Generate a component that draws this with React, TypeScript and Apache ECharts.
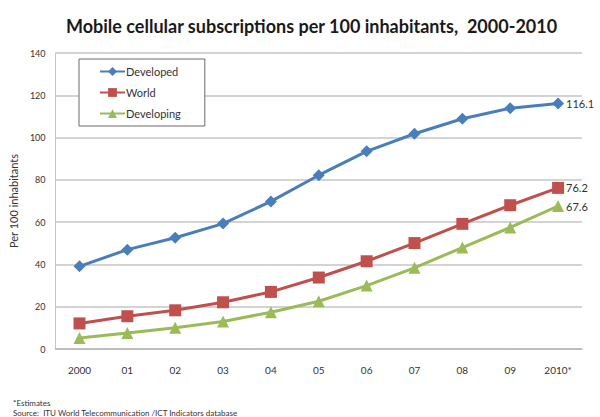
import React, { useEffect, useRef } from "react";
import * as echarts from "echarts";

const years = ["2000", "01", "02", "03", "04", "05", "06", "07", "08", "09", "2010*"];
const developed = [39.1, 47.0, 52.6, 59.3, 69.8, 82.2, 93.5, 101.8, 108.9, 113.9, 116.1];
const world = [12.1, 15.5, 18.3, 22.1, 27.0, 33.8, 41.5, 50.1, 59.2, 68.0, 76.2];
const developing = [5.2, 7.6, 10.1, 13.0, 17.4, 22.6, 30.0, 38.4, 48.0, 57.5, 67.6];
const yTicks = { min: 0, max: 140, interval: 20 };

const FONT = "Lato, 'Open Sans', sans-serif";

export default function App() {
  const ref = useRef<HTMLDivElement>(null);
  useEffect(() => {
    document.body.style.margin = "0";
    const chart = echarts.init(ref.current!, null, { renderer: "svg" });
    const endLabel = {
      show: true,
      formatter: (p: any) => String(p.value),
      color: "#333",
      fontSize: 11,
      fontFamily: FONT,
      distance: 8,
    };
    const mk = (name: string, data: number[], color: string, symbol: string, size: number) => ({
      name,
      type: "line",
      data,
      symbol,
      symbolSize: size,
      showAllSymbol: true,
      lineStyle: { color, width: 3 },
      itemStyle: { color },
      endLabel,
      z: 3,
    });
    chart.setOption({
      animation: false,
      backgroundColor: "#ffffff",
      textStyle: { fontFamily: FONT },
      title: {
        text: "Mobile cellular subscriptions per 100 inhabitants,  2000-2010",
        left: 61,
        top: 12,
        textStyle: { fontFamily: FONT, fontSize: 18, fontWeight: "bold", color: "#1a1a1a" },
      },
      grid: { left: 52, right: 18, top: 53, bottom: 68 },
      legend: {
        orient: "vertical",
        left: 79,
        top: 59,
        width: 126,
        padding: [7, 24, 7, 20],
        itemGap: 10,
        itemWidth: 25,
        itemHeight: 11,
        backgroundColor: "#ffffff",
        borderColor: "#6a6a6a",
        borderWidth: 1,
        textStyle: { fontFamily: FONT, fontSize: 11, color: "#333", padding: [0, 0, 0, -4] },
        data: ["Developed", "World", "Developing"],
      },
      xAxis: {
        type: "category",
        data: years,
        boundaryGap: true,
        axisLine: { show: true, lineStyle: { color: "#b8b8b8", width: 1.5 } },
        axisTick: { show: false },
        axisLabel: { color: "#333", fontSize: 10, fontFamily: FONT, margin: 16 },
      },
      yAxis: {
        type: "value",
        min: yTicks.min,
        max: yTicks.max,
        interval: yTicks.interval,
        name: "Per 100 inhabitants",
        nameLocation: "middle",
        nameGap: 35,
        nameTextStyle: { color: "#333", fontSize: 11, fontFamily: FONT },
        axisLine: { show: true, lineStyle: { color: "#c4c4c4", width: 1 } },
        axisTick: { show: false },
        axisLabel: { color: "#333", fontSize: 9, fontFamily: FONT, margin: 10 },
        splitLine: { lineStyle: { color: "#c4c4c4", width: 1.5 } },
      },
      series: [
        mk("Developed", developed, "#4a7ebb", "diamond", 12),
        mk("World", world, "#c0504d", "rect", 12),
        mk("Developing", developing, "#9bbb59", "triangle", 12),
      ],
      graphic: [
        {
          type: "text",
          left: 13,
          top: 399,
          style: { text: "*Estimates", fontSize: 8, fontFamily: FONT, fill: "#333" },
        },
        {
          type: "text",
          left: 13,
          top: 409,
          style: {
            text: "Source:  ITU World Telecommunication /ICT Indicators database",
            fontSize: 8,
            fontFamily: FONT,
            fill: "#333",
          },
        },
      ],
    });
    return () => chart.dispose();
  }, []);
  return <div ref={ref} style={{ width: 600, height: 417 }} />;
}
